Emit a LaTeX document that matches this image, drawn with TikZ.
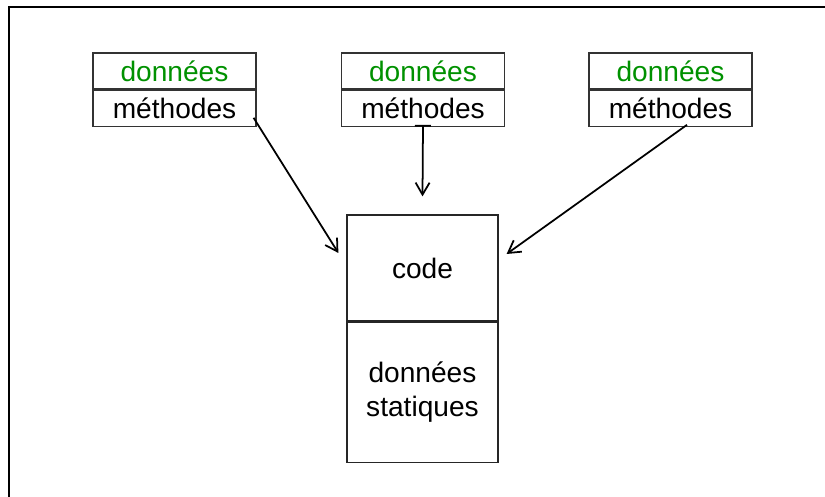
\documentclass[tikz,border=0pt]{standalone}
\usepackage{fontspec}
\setmainfont{Liberation Sans}
\usepackage{xcolor}
\usetikzlibrary{arrows.meta, positioning, calc}

\definecolor{datagreen}{RGB}{0,145,0}

\begin{document}
\begin{tikzpicture}[font=\fontsize{16}{19}\selectfont,
    cell/.style={draw=black!80, line width=0.7pt, minimum width=3.26cm, minimum height=0.72cm, inner sep=0pt},
    part/.style={draw=black!85, line width=0.7pt, minimum width=3.02cm, inner sep=0pt, align=center},
    link/.style={line width=1pt, -{Straight Barb[length=2.4mm,width=2.8mm]}}]
  \useasboundingbox (0,0) rectangle (16.5,9.94);
  \draw[line width=1.3pt] (0.18,-1) rectangle (17,9.8);

  % three objects
  \node[cell, text=datagreen] (data1) at (3.49,8.52) {données};
  \node[cell, below=0pt of data1] (meth1) {méthodes};
  \node[cell, text=datagreen] (data2) at (8.46,8.52) {données};
  \node[cell, below=0pt of data2] (meth2) {méthodes};
  \node[cell, text=datagreen] (data3) at (13.41,8.52) {données};
  \node[cell, below=0pt of data3] (meth3) {méthodes};

  % shared class part
  \node[part, minimum height=2.12cm] (code) at (8.45,4.58) {code};
  \node[part, minimum height=2.8cm, below=0pt of code] (static) {données\\statiques};

  \coordinate (in1) at ($(code.west)+(-0.16,0.3)$);
  \coordinate (in2) at ($(code.north)+(0,0.36)$);
  \coordinate (in3) at ($(code.east)+(0.16,0.28)$);

  \draw[link] ($(meth1.south east)+(-0.06,0.18)$) -- (in1);
  \draw[link, {Bar[width=3.2mm]}-{Straight Barb[length=2.4mm,width=2.8mm]}] ($(meth2.south)+(0,0.04)$) -- (in2);
  \draw[link] ($(meth3.south)+(0.33,0.04)$) -- (in3);
\end{tikzpicture}
\end{document}
